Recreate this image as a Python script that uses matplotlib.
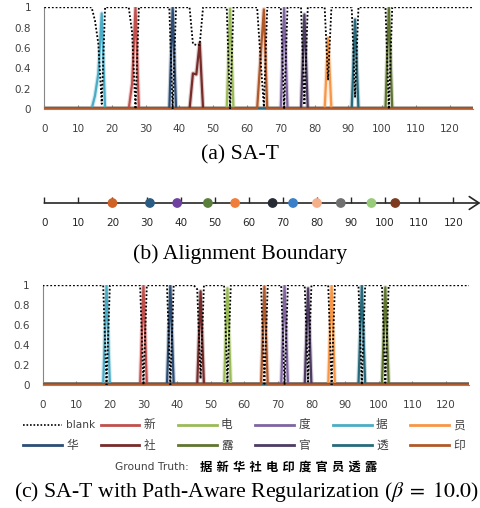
import numpy as np
import matplotlib.pyplot as plt
from matplotlib.lines import Line2D

plt.rcParams['font.family'] = ['DejaVu Sans', 'Noto Sans CJK SC']
plt.rcParams['mathtext.fontset'] = 'stix'

W, H = 481, 508
n_frames = 128
frames = np.arange(n_frames)

# token order = Excel series order (legend reads row by row)
tokens = ['新', '电', '度', '据', '员', '华', '社', '露', '官', '透', '印']
token_colors = ['#C0504D', '#9BBB59', '#8064A2', '#4BACC6', '#F79646',
                '#2C4D75', '#772C2A', '#5F7530', '#4D3B62', '#276A7C', '#B0592A']
ground_truth = ['据', '新', '华', '社', '电', '印', '度', '官', '员', '透', '露']

# (a) SA-T : non-zero region of each token posterior (frame list, prob list)
sat_peaks = {
    '据': ([14, 15, 16, 17, 18], [0.0, 0.13, 0.35, 0.94, 0.0]),
    '新': ([25, 26, 27, 28], [0.0, 0.25, 1.0, 0.0]),
    '华': ([37, 38, 39], [0.0, 1.0, 0.0]),
    '社': ([43, 44, 45, 46, 47], [0.0, 0.35, 0.34, 0.65, 0.0]),
    '电': ([54, 55, 56], [0.0, 0.99, 0.0]),
    '印': ([63, 64, 65, 66], [0.0, 0.5, 0.98, 0.0]),
    '度': ([70, 71, 72], [0.0, 1.0, 0.0]),
    '官': ([76, 77, 78], [0.0, 0.93, 0.0]),
    '员': ([83, 84, 85], [0.0, 0.70, 0.0]),
    '透': ([91, 92, 93], [0.0, 0.88, 0.0]),
    '露': ([101, 102, 103], [0.0, 1.0, 0.0]),
}
# blank prob is 1 except at these frames
sat_blank_frames = [15, 16, 17, 26, 27, 38, 44, 45, 46, 55, 64, 65, 71, 77, 84, 92, 102]
sat_blank_vals = [0.87, 0.64, 0.05, 0.75, 0.0, 0.0, 0.64, 0.63, 0.63, 0.0, 0.5, 0.02,
                  0.0, 0.04, 0.29, 0.12, 0.0]

# (c) SA-T with path-aware regularization
reg_peaks = {
    '据': ([18, 19, 20], [0.0, 1.0, 0.0]),
    '新': ([29, 30, 31], [0.0, 1.0, 0.0]),
    '华': ([37, 38, 39], [0.0, 1.0, 0.0]),
    '社': ([46, 47, 48], [0.0, 0.94, 0.0]),
    '电': ([54, 55, 56], [0.0, 0.97, 0.0]),
    '印': ([65, 66, 67], [0.0, 0.99, 0.0]),
    '度': ([71, 72, 73], [0.0, 1.0, 0.0]),
    '官': ([78, 79, 80], [0.0, 0.97, 0.0]),
    '员': ([85, 86, 87], [0.0, 1.0, 0.0]),
    '透': ([94, 95, 96], [0.0, 1.0, 0.0]),
    '露': ([101, 102, 103], [0.0, 0.98, 0.0]),
}
reg_blank_frames = [19, 30, 38, 46, 47, 55, 66, 72, 79, 86, 95, 102]
reg_blank_vals = [0.0, 0.0, 0.0, 0.96, 0.06, 0.02, 0.01, 0.0, 0.03, 0.0, 0.0, 0.02]

# (b) alignment boundaries
boundaries = [20, 31, 39, 48, 56, 67, 73, 80, 87, 96, 103]
boundary_colors = ['#CF6227', '#2B5C84', '#7040A0', '#5A7F3C', '#F07E3A', '#262A33',
                   '#3A80C8', '#F4B08A', '#707070', '#98CC7A', '#7E3A1E']

fig = plt.figure(figsize=(W / 100, H / 100), dpi=100)


def px_axes(left, top, right, bottom):
    return fig.add_axes([left / W, 1 - bottom / H, (right - left) / W, (bottom - top) / H])


def draw_posteriors(ax, peaks, blank_frames, blank_vals):
    for tok, col in zip(tokens, token_colors):
        y = np.zeros(n_frames)
        fr, vals = peaks[tok]
        y[fr] = vals
        ax.plot(frames, y, color=col, lw=3.2, alpha=0.25, zorder=2)
        ax.plot(frames, y, color=col, lw=1.6, zorder=3)
    blank = np.ones(n_frames)
    blank[blank_frames] = blank_vals
    ax.plot(frames, blank, color='black', lw=1.3, ls=(0, (1, 1.1)), zorder=4)

    ax.set_xlim(0, 127)
    ax.set_ylim(0, 1)
    for s in ['top', 'right']:
        ax.spines[s].set_visible(False)
    ax.spines['left'].set_color('#868686')
    ax.spines['bottom'].set_color('#868686')
    ax.set_xticks(range(0, 121, 10))
    ax.set_yticks([0, 0.2, 0.4, 0.6, 0.8, 1.0])
    ax.set_yticklabels(['0', '0.2', '0.4', '0.6', '0.8', '1'])
    ax.tick_params(axis='x', direction='in', length=3, color='#868686',
                   labelsize=7.5, labelcolor='#404040', pad=11)
    ax.tick_params(axis='y', length=0, labelsize=7.5, labelcolor='#404040', pad=9.5)


ax_a = px_axes(44.3, 7.3, 473.3, 109)
draw_posteriors(ax_a, sat_peaks, sat_blank_frames, sat_blank_vals)

ax_c = px_axes(42.7, 285.3, 469.3, 384.7)
draw_posteriors(ax_c, reg_peaks, reg_blank_frames, reg_blank_vals)

# number line
ax_b = px_axes(44.3, 193, 480.5, 213)
ax_b.set_xlim(0, 128)
ax_b.set_ylim(-1, 1)
for s in ['top', 'right', 'left']:
    ax_b.spines[s].set_visible(False)
ax_b.spines['bottom'].set_position(('data', 0))
ax_b.spines['bottom'].set_visible(False)
ax_b.set_yticks([])
ax_b.set_xticks(range(0, 121, 10))
ax_b.tick_params(axis='x', direction='in', length=4, width=1, color='#262626',
                 labelsize=7.5, labelcolor='#262626', pad=11)
ax_b.annotate('', xy=(128, 0), xytext=(0, 0),
              arrowprops=dict(arrowstyle='->, head_length=0.5, head_width=0.33',
                              lw=1.2, color='#262626', mutation_scale=14,
                              shrinkA=0, shrinkB=0))
ax_b.scatter(boundaries, np.zeros(len(boundaries)), s=36, c=boundary_colors, zorder=3)

# legend, drawn by hand so the columns are evenly spaced like Excel's
legend_rows = [['blank', '新', '电', '度', '据', '员'],
               ['华', '社', '露', '官', '透', '印']]
row_y = [424.7, 445]
col_x = [23.3, 100.5, 178, 255.5, 333, 410.5]
for r, row in enumerate(legend_rows):
    for c, lab in enumerate(row):
        y = 1 - row_y[r] / H
        x0, x1 = col_x[c] / W, (col_x[c] + 39) / W
        if lab == 'blank':
            fig.add_artist(Line2D([x0, x1], [y, y], color='black', lw=1.2, ls=(0, (1, 1.1))))
            fig.text(x1 + 4 / W, y, lab, fontsize=7.6, color='#404040', va='center')
        else:
            col = token_colors[tokens.index(lab)]
            fig.add_artist(Line2D([x0, x1], [y, y], color=col, lw=2))
            fig.text(x1 + 4 / W, y, lab, fontsize=8.4, color='#404040', va='center')

fig.text(115 / W, 1 - 467 / H, 'Ground Truth:', fontsize=7.7, color='#404040', va='center')
fig.text(200 / W, 1 - 467 / H, ' '.join(ground_truth), fontsize=8.8,
         fontweight='bold', color='black', va='center')

cap = dict(family=['Liberation Serif'], fontsize=15.7, ha='center', va='center')
fig.text(240 / W, 1 - 155 / H, '(a) SA-T', **cap)
fig.text(240 / W, 1 - 254 / H, '(b) Alignment Boundary', **cap)
fig.text(246 / W, 1 - 492 / H,
         r'(c) SA-T with Path-Aware Regularization ($\beta\;=\;10.0$)', **cap)

fig.savefig('out.png', dpi=100)
